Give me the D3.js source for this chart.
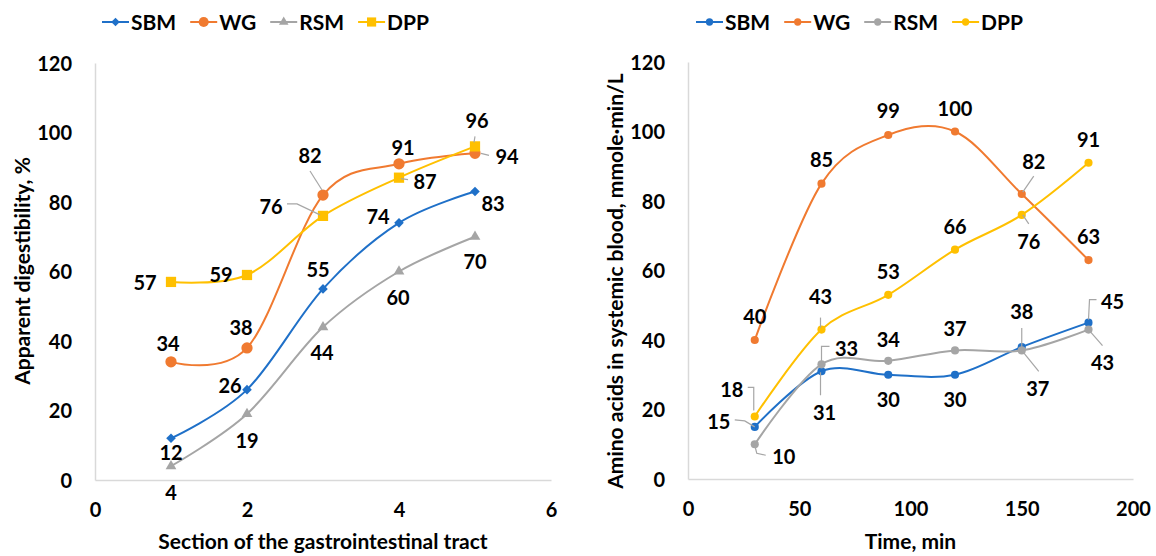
<!DOCTYPE html>
<html><head><meta charset="utf-8">
<script src="https://cdn.jsdelivr.net/npm/d3@7"></script>
<style>
body{margin:0;background:#fff}
text{font-family:Lato,"Open Sans",sans-serif;font-weight:700;fill:#000}
</style>
</head><body>
<svg id="c" width="1156" height="556"></svg>
<script>
// ---------- data ----------
const seriesNames = ["SBM", "WG", "RSM", "DPP"];

const leftSections = [1, 2, 3, 4, 5];
const leftSBM = [12, 26, 55, 74, 83];
const leftWG  = [34, 38, 82, 91, 94];
const leftRSM = [4, 19, 44, 60, 70];
const leftDPP = [57, 59, 76, 87, 96];
const leftXTicks = [0, 2, 4, 6];
const leftYTicks = [0, 20, 40, 60, 80, 100, 120];

const rightTimes = [30, 60, 90, 120, 150, 180];
const rightSBM = [15, 31, 30, 30, 38, 45];
const rightWG  = [40, 85, 99, 100, 82, 63];
const rightRSM = [10, 33, 34, 37, 37, 43];
const rightDPP = [18, 43, 53, 66, 76, 91];
const rightXTicks = [0, 50, 100, 150, 200];
const rightYTicks = [0, 20, 40, 60, 80, 100, 120];

const leftXTitle = "Section of the gastrointestinal tract";
const leftYTitle = "Apparent digestibility, %";
const rightXTitle = "Time, min";
const rightYTitle = "Amino acids in systemic blood, mmole·min/L";

// ---------- styles / layout ----------
const colors = {SBM: "#1f70c8", WG: "#f07a30", RSM: "#a5a5a5", DPP: "#ffc000"};
const leaderColor = "#a6a6a6";
const axisColor = "#d9d9d9";

// label offsets (px, relative to the point) and leader polylines
const leftLabelOffsets = {
  SBM: [[0,14],[-17,-4],[-5,-19],[-21,-6],[18,12]],
  WG:  [[-3,-18],[-6,-20],[-13,-39],[4,-16],[32,3]],
  RSM: [[0,27],[0,27],[-1,26],[-1,26],[0,25]],
  DPP: [[-26,1],[-26,0],[-52,-9],[26,4],[2,-26]]
};
const leftLeaders = {
  WG:  {2: [[-13,-24],[-1,-5]], 4: [[6,0],[14,2]]},
  DPP: {2: [[-36,-12],[-26,-12],[-3,-1]], 3: [[2,1],[9,2]], 4: [[0,-10],[-1,-4]]}
};
const rightLabelOffsets = {
  SBM: [[-36,-5],[3,42],[0,25],[0,25],[0,-35],[24,-21]],
  WG:  [[0,-23],[0,-24],[0,-24],[0,-23],[12,-32],[0,-23]],
  RSM: [[29,13],[25,-16],[0,-21],[0,-22],[16,38],[14,33]],
  DPP: [[-23,-27],[-1,-33],[0,-23],[0,-23],[7,27],[0,-23]]
};
const rightLeaders = {
  WG:  {4: [[12,-18],[1,-2]]},
  DPP: {0: [[-7,-29],[-1,-29],[-1,-6]], 1: [[-1,-12],[-1,-2]], 4: [[1,0],[7,9]]},
  SBM: {0: [[-20,-7],[-10,-6],[0,0]], 1: [[-1,1],[-1,24]], 4: [[0,-19],[0,0]], 5: [[8,-23],[1,-23],[0,-3]]},
  RSM: {0: [[0,1],[2,9],[11,11]], 1: [[8,-18],[0,-18],[0,-2]], 4: [[0,0],[17,21]], 5: [[0,0],[14,16]]}
};

const svg = d3.select("#c");

const leftMarkers = {
  SBM: {type: d3.symbolSquare, size: 46, rotate: 45},
  WG:  {type: d3.symbolCircle, size: 100, rotate: 0},
  RSM: {type: d3.symbolTriangle, size: 50, rotate: 0},
  DPP: {type: d3.symbolSquare, size: 105, rotate: 0}
};
const rightMarkers = {
  SBM: {type: d3.symbolCircle, size: 52, rotate: 0},
  WG:  {type: d3.symbolCircle, size: 52, rotate: 0},
  RSM: {type: d3.symbolCircle, size: 52, rotate: 0},
  DPP: {type: d3.symbolCircle, size: 52, rotate: 0}
};

function drawPanel(cfg) {
  const g = svg.append("g");
  const x = d3.scaleLinear().domain(cfg.xDomain).range(cfg.xRange);
  const y = d3.scaleLinear().domain([0, 120]).range(cfg.yRange);

  // axes
  const ax = g.append("g").attr("transform", `translate(0,${cfg.yRange[0]})`)
    .call(d3.axisBottom(x).tickValues(cfg.xTicks).tickFormat(d3.format("d"))
      .tickSize(0).tickSizeOuter(0).tickPadding(23));
  const ay = g.append("g").attr("transform", `translate(${cfg.xRange[0]},0)`)
    .call(d3.axisLeft(y).tickValues(cfg.yTicks).tickFormat(d3.format("d"))
      .tickSize(0).tickSizeOuter(0).tickPadding(23));
  [ax, ay].forEach(a => {
    a.select(".domain").attr("stroke", axisColor).attr("stroke-width", 1.5);
    a.selectAll("text").attr("font-size", 20).attr("font-family", "Lato").attr("font-weight", 700).attr("fill", "#000");
  });
  ay.selectAll("text").attr("dy", "0.36em");

  // titles
  g.append("text").attr("x", (cfg.xRange[0] + cfg.xRange[1]) / 2).attr("y", 541).attr("dy", "0.36em")
    .attr("text-anchor", "middle").attr("font-size", 21).text(cfg.xTitle);
  g.append("text").attr("transform", `translate(${cfg.yTitleX},${cfg.yTitleY}) rotate(-90)`).attr("dy", "0.36em")
    .attr("text-anchor", "middle").attr("font-size", cfg.yTitleSize).text(cfg.yTitle);

  const line = d3.line().x(d => x(d[0])).y(d => y(d[1])).curve(d3.curveCardinal.tension(0));
  const sym = d3.symbol();

  const series = seriesNames.map((n, i) => ({name: n, values: cfg.values[i]}));
  series.forEach(s => {
    const pts = cfg.xs.map((xv, j) => [xv, s.values[j]]);
    g.append("path").attr("d", line(pts)).attr("fill", "none")
      .attr("stroke", colors[s.name]).attr("stroke-width", 2);
    const m = cfg.markers[s.name];
    g.selectAll(null).data(pts).join("path")
      .attr("d", sym.type(m.type).size(m.size)())
      .attr("transform", d => `translate(${x(d[0])},${y(d[1])}) rotate(${m.rotate})`)
      .attr("fill", colors[s.name]);
  });

  // leaders and labels
  series.forEach(s => {
    const leaders = cfg.leaders[s.name] || {};
    cfg.xs.forEach((xv, j) => {
      const px = x(xv), py = y(s.values[j]);
      if (leaders[j]) {
        g.append("path")
          .attr("d", d3.line()(leaders[j].map(p => [px + p[0], py + p[1]])))
          .attr("fill", "none").attr("stroke", leaderColor).attr("stroke-width", 1.2);
      }
    });
  });
  series.forEach(s => {
    const offs = cfg.labelOffsets[s.name];
    cfg.xs.forEach((xv, j) => {
      const px = x(xv), py = y(s.values[j]);
      g.append("text").attr("x", px + offs[j][0]).attr("y", py + offs[j][1]).attr("dy", "0.36em")
        .attr("text-anchor", "middle").attr("font-size", 20).text(s.values[j]);
    });
  });

  // legend
  let lx = cfg.legendX;
  const ly = 22;
  seriesNames.forEach(n => {
    const lg = g.append("g");
    lg.append("line").attr("x1", lx).attr("x2", lx + 27).attr("y1", ly).attr("y2", ly)
      .attr("stroke", colors[n]).attr("stroke-width", 2);
    const m = cfg.markers[n];
    lg.append("path").attr("d", sym.type(m.type).size(m.size * 0.8)())
      .attr("transform", `translate(${lx + 13.5},${ly}) rotate(${m.rotate})`).attr("fill", colors[n]);
    const t = lg.append("text").attr("x", lx + 29).attr("y", ly).attr("dy", "0.36em")
      .attr("font-size", 21).text(n);
    lx += 29 + t.node().getComputedTextLength() + 14;
  });
}

drawPanel({
  xDomain: [0, 6], xRange: [95, 551], yRange: [480, 63],
  xTicks: leftXTicks, yTicks: leftYTicks, xs: leftSections,
  values: [leftSBM, leftWG, leftRSM, leftDPP],
  markers: leftMarkers, labelOffsets: leftLabelOffsets, leaders: leftLeaders,
  xTitle: leftXTitle, yTitle: leftYTitle, yTitleX: 22, yTitleY: 271, yTitleSize: 21, legendX: 102
});
drawPanel({
  xDomain: [0, 200], xRange: [688, 1133], yRange: [479, 62],
  xTicks: rightXTicks, yTicks: rightYTicks, xs: rightTimes,
  values: [rightSBM, rightWG, rightRSM, rightDPP],
  markers: rightMarkers, labelOffsets: rightLabelOffsets, leaders: rightLeaders,
  xTitle: rightXTitle, yTitle: rightYTitle, yTitleX: 615, yTitleY: 281, yTitleSize: 21, legendX: 696
});
</script>
</body></html>
